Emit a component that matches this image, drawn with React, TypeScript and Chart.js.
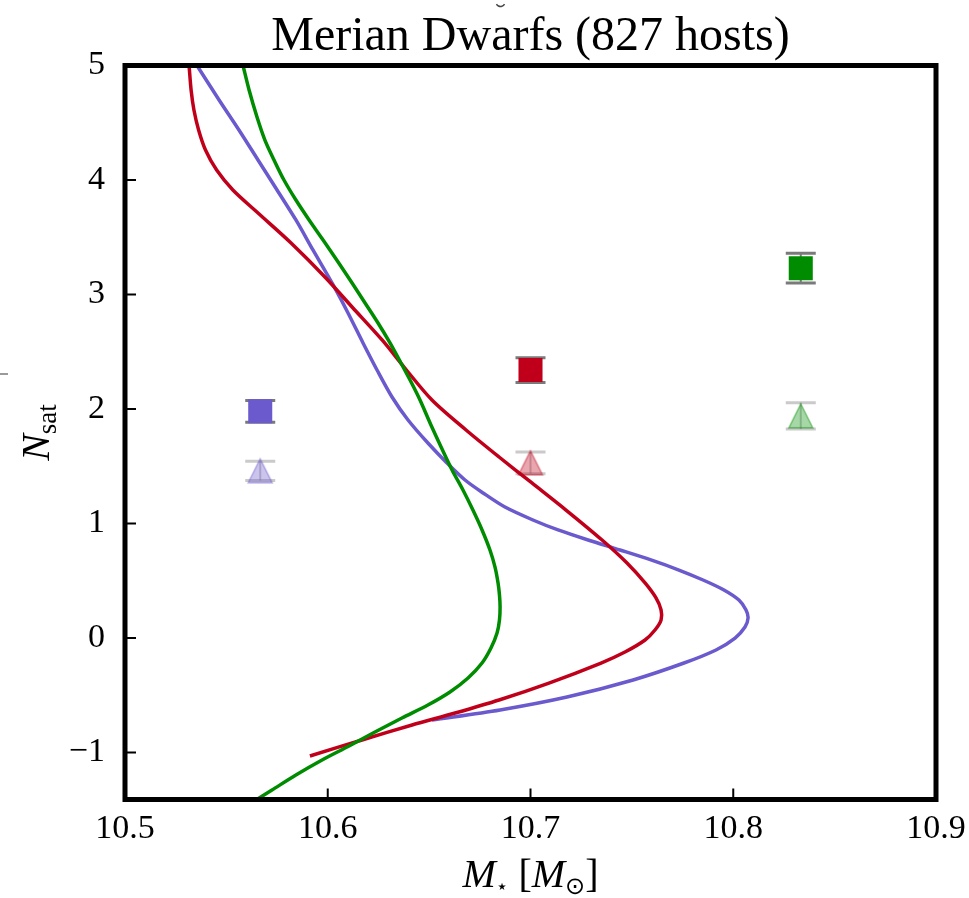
import React, { useEffect, useRef } from 'react';
import { Chart, registerables } from 'chart.js';

Chart.register(...registerables);

// ---------- data ----------
const chartTitle = 'Merian Dwarfs (827 hosts)';
const xTickValues = [10.5, 10.6, 10.7, 10.8, 10.9];
const xTickLabels = ['10.5', '10.6', '10.7', '10.8', '10.9'];
const yTickValues = [-1, 0, 1, 2, 3, 4, 5];
const yTickLabels = ['\u22121', '0', '1', '2', '3', '4', '5'];
const xMin = 10.5;
const xMax = 10.9;
const yMin = -1.41;
const yMax = 5;

// binned points (squares and triangles)
const binX = [10.5667, 10.7, 10.8333];
const squareY = [1.98, 2.34, 3.23];
const squareErr = [0.095, 0.108, 0.13];
const triY = [1.46, 1.53, 1.94];
const triErr = [0.085, 0.095, 0.115];

// curves (x as function of y)
const blueX = [10.5355, 10.5464, 10.5562, 10.5656, 10.575, 10.5843, 10.5927, 10.6021, 10.61, 10.6174, 10.6243, 10.6317, 10.6396, 10.6494, 10.6588, 10.6677, 10.6766, 10.6874, 10.7012, 10.7136, 10.7284, 10.7441, 10.7594, 10.7732, 10.7851, 10.7954, 10.8028, 10.8063, 10.8073, 10.8058, 10.8009, 10.7915, 10.7757, 10.7506, 10.718, 10.685, 10.6514];
const blueY = [5.0, 4.699, 4.437, 4.175, 3.913, 3.651, 3.389, 3.101, 2.839, 2.577, 2.341, 2.105, 1.904, 1.703, 1.529, 1.38, 1.267, 1.144, 1.031, 0.944, 0.856, 0.769, 0.682, 0.594, 0.507, 0.42, 0.332, 0.245, 0.175, 0.096, 0.0, -0.104, -0.218, -0.366, -0.515, -0.628, -0.716];

const redX = [10.5316, 10.5326, 10.534, 10.5363, 10.5397, 10.5452, 10.5532, 10.5656, 10.5819, 10.5986, 10.612, 10.6268, 10.6376, 10.6514, 10.6682, 10.6845, 10.7007, 10.7175, 10.7353, 10.7476, 10.7565, 10.7619, 10.7644, 10.7644, 10.7614, 10.7565, 10.7466, 10.7348, 10.7091, 10.6845, 10.6628, 10.6416, 10.6169, 10.5912];
const redY = [5.0, 4.786, 4.611, 4.437, 4.262, 4.087, 3.913, 3.712, 3.45, 3.153, 2.891, 2.603, 2.367, 2.079, 1.817, 1.581, 1.354, 1.118, 0.856, 0.655, 0.481, 0.35, 0.245, 0.158, 0.07, -0.017, -0.122, -0.218, -0.393, -0.541, -0.655, -0.759, -0.89, -1.03];

const greenX = [10.5582, 10.5612, 10.5651, 10.569, 10.5735, 10.5784, 10.5843, 10.5908, 10.5977, 10.6051, 10.612, 10.6184, 10.6248, 10.6307, 10.6361, 10.6411, 10.6455, 10.6509, 10.6559, 10.6613, 10.6667, 10.6716, 10.6761, 10.68, 10.6825, 10.684, 10.6847, 10.685, 10.6847, 10.6835, 10.6805, 10.6761, 10.6692, 10.6603, 10.6494, 10.6366, 10.6233, 10.6105, 10.5972, 10.5843, 10.5725, 10.5646];
const greenY = [5.0, 4.786, 4.55, 4.349, 4.175, 4.0, 3.825, 3.651, 3.476, 3.284, 3.101, 2.926, 2.751, 2.577, 2.402, 2.236, 2.079, 1.861, 1.668, 1.468, 1.293, 1.118, 0.944, 0.769, 0.62, 0.481, 0.376, 0.271, 0.158, 0.044, -0.087, -0.218, -0.349, -0.471, -0.585, -0.698, -0.821, -0.943, -1.065, -1.196, -1.327, -1.414];

// ---------- styles ----------
const BLUE = '#6a5acd';
const RED = '#c0001a';
const GREEN = '#008c00';
const seriesColors = [BLUE, RED, GREEN];
const SERIF = '"Liberation Serif", "DejaVu Serif", serif';
const SYM = '"DejaVu Sans", "DejaVu Serif", sans-serif';

function makeTriangle(color: string, size: number): HTMLCanvasElement {
  const pad = 2;
  const c = document.createElement('canvas');
  c.width = size + pad * 2;
  c.height = size + pad * 2;
  const ctx = c.getContext('2d')!;
  ctx.beginPath();
  ctx.moveTo(pad + size / 2, pad);
  ctx.lineTo(pad + size, pad + size);
  ctx.lineTo(pad, pad + size);
  ctx.closePath();
  ctx.globalAlpha = 0.35;
  ctx.fillStyle = color;
  ctx.fill();
  ctx.globalAlpha = 0.45;
  ctx.strokeStyle = color;
  ctx.lineWidth = 1.5;
  ctx.stroke();
  return c;
}

type Piece = { text: string; font: string; dy: number };

function piecesWidth(ctx: CanvasRenderingContext2D, pieces: Piece[]) {
  let w = 0;
  for (const p of pieces) {
    ctx.font = p.font;
    w += ctx.measureText(p.text).width;
  }
  return w;
}

function drawPieces(ctx: CanvasRenderingContext2D, pieces: Piece[], cx: number, y: number) {
  let x = cx - piecesWidth(ctx, pieces) / 2;
  ctx.textAlign = 'left';
  ctx.textBaseline = 'alphabetic';
  for (const p of pieces) {
    ctx.font = p.font;
    ctx.fillText(p.text, x, y + p.dy);
    x += ctx.measureText(p.text).width;
  }
}

const decorPlugin = {
  id: 'decor',
  beforeDatasetsDraw(chart: any) {
    const ctx: CanvasRenderingContext2D = chart.ctx;
    const xs = chart.scales.x;
    const ys = chart.scales.y;
    const drawErr = (vals: number[], errs: number[], alpha: number) => {
      ctx.save();
      ctx.globalAlpha = alpha;
      ctx.strokeStyle = '#7a7a7a';
      for (let i = 0; i < binX.length; i++) {
        const px = xs.getPixelForValue(binX[i]);
        const t = ys.getPixelForValue(vals[i] + errs[i]);
        const b = ys.getPixelForValue(vals[i] - errs[i]);
        ctx.lineWidth = 2;
        ctx.beginPath();
        ctx.moveTo(px, t);
        ctx.lineTo(px, b);
        ctx.stroke();
        ctx.lineWidth = 3;
        ctx.beginPath();
        ctx.moveTo(px - 15, t);
        ctx.lineTo(px + 15, t);
        ctx.moveTo(px - 15, b);
        ctx.lineTo(px + 15, b);
        ctx.stroke();
      }
      ctx.restore();
    };
    drawErr(squareY, squareErr, 1);
    drawErr(triY, triErr, 0.4);
  },
  afterDraw(chart: any) {
    const ctx: CanvasRenderingContext2D = chart.ctx;
    const a = chart.chartArea;
    const xs = chart.scales.x;
    const ys = chart.scales.y;
    ctx.save();
    // inward ticks
    ctx.strokeStyle = '#000';
    ctx.lineWidth = 2;
    ctx.beginPath();
    for (const v of yTickValues) {
      const py = ys.getPixelForValue(v);
      ctx.moveTo(a.left, py);
      ctx.lineTo(a.left + 11, py);
    }
    for (const v of xTickValues) {
      const px = xs.getPixelForValue(v);
      ctx.moveTo(px, a.bottom);
      ctx.lineTo(px, a.bottom - 11);
    }
    ctx.stroke();
    // frame
    ctx.lineWidth = 5;
    ctx.strokeRect(a.left, a.top, a.right - a.left, a.bottom - a.top);

    const cx = (a.left + a.right) / 2;
    ctx.fillStyle = '#000';
    // title
    ctx.font = '48px ' + SERIF;
    ctx.textAlign = 'center';
    ctx.textBaseline = 'alphabetic';
    ctx.fillText(chartTitle, cx, 50);

    // x label
    const xl: Piece[] = [
      { text: 'M', font: 'italic 40px ' + SERIF, dy: 0 },
      { text: '\u22C6', font: '20px ' + SYM, dy: 6 },
      { text: ' ', font: '40px ' + SERIF, dy: 0 },
      { text: '[', font: '40px ' + SERIF, dy: 0 },
      { text: 'M', font: 'italic 40px ' + SERIF, dy: 0 },
      { text: '\u2299', font: '24px ' + SYM, dy: 7 },
      { text: ']', font: '40px ' + SERIF, dy: 0 },
    ];
    drawPieces(ctx, xl, cx, 887);

    // y label
    const yl: Piece[] = [
      { text: 'N', font: 'italic 40px ' + SERIF, dy: 0 },
      { text: 'sat', font: '27px ' + SERIF, dy: 7 },
    ];
    ctx.save();
    ctx.translate(49, (a.top + a.bottom) / 2);
    ctx.rotate(-Math.PI / 2);
    drawPieces(ctx, yl, 0, 0);
    ctx.restore();

    // small artefacts at the figure edge
    ctx.fillStyle = '#9a9a9a';
    ctx.fillRect(0, 373, 8, 2);
    ctx.strokeStyle = '#444';
    ctx.lineWidth = 1.5;
    ctx.beginPath();
    ctx.arc(500.5, 2, 4.5, 0.15 * Math.PI, 0.85 * Math.PI);
    ctx.stroke();
    ctx.restore();
  },
};

export default function App() {
  const ref = useRef<HTMLCanvasElement | null>(null);
  useEffect(() => {
    document.body.style.margin = '0';
    const canvas = ref.current!;
    const curve = (xsArr: number[], ysArr: number[]) => xsArr.map((x, i) => ({ x, y: ysArr[i] }));
    const triStyles = seriesColors.map((c) => makeTriangle(c, 24));
    const tickFont = { family: SERIF, size: 34 };
    const lineOpts = { showLine: true, borderWidth: 3.5, pointRadius: 0, pointHoverRadius: 0, tension: 0.3, fill: false };
    const chart = new Chart(canvas, {
      type: 'scatter',
      data: {
        datasets: [
          { label: 'green', data: curve(greenX, greenY), borderColor: GREEN, order: 1, ...lineOpts },
          { label: 'red', data: curve(redX, redY), borderColor: RED, order: 2, ...lineOpts },
          { label: 'blue', data: curve(blueX, blueY), borderColor: BLUE, order: 3, ...lineOpts },
          { label: 'squares', data: binX.map((x, i) => ({ x, y: squareY[i] })), pointStyle: 'rect', pointRadius: 17, pointHoverRadius: 17, backgroundColor: seriesColors, borderColor: seriesColors, borderWidth: 0, showLine: false, order: 0 },
          { label: 'triangles', data: binX.map((x, i) => ({ x, y: triY[i] })), pointStyle: triStyles as any, pointRadius: 14, showLine: false, order: 0 },
        ] as any,
      },
      options: {
        responsive: false,
        animation: false,
        devicePixelRatio: 1,
        layout: { padding: { left: 0, right: 33, top: 65.5, bottom: 0 } },
        plugins: { legend: { display: false }, tooltip: { enabled: false }, title: { display: false } },
        scales: {
          x: {
            type: 'linear',
            min: xMin,
            max: xMax,
            grid: { display: false, drawTicks: false },
            border: { display: false },
            ticks: {
              font: tickFont,
              color: '#000',
              padding: 9,
              callback: (v: any) => xTickLabels[xTickValues.indexOf(v)] ?? '',
            },
            afterBuildTicks: (s: any) => { s.ticks = xTickValues.map((v) => ({ value: v })); },
            afterFit: (s: any) => { s.height = 98.5; s.paddingLeft = 0; s.paddingRight = 0; },
          },
          y: {
            type: 'linear',
            min: yMin,
            max: yMax,
            grid: { display: false, drawTicks: false },
            border: { display: false },
            ticks: {
              font: tickFont,
              color: '#000',
              padding: 20,
              callback: (v: any) => yTickLabels[yTickValues.indexOf(v)] ?? '',
            },
            afterBuildTicks: (s: any) => { s.ticks = yTickValues.map((v) => ({ value: v })); },
            afterFit: (s: any) => { s.width = 125; s.paddingTop = 0; s.paddingBottom = 0; },
          },
        },
      } as any,
      plugins: [decorPlugin],
    });
    return () => chart.destroy();
  }, []);
  return <canvas ref={ref} width={969} height={898} style={{ display: 'block' }} />;
}
